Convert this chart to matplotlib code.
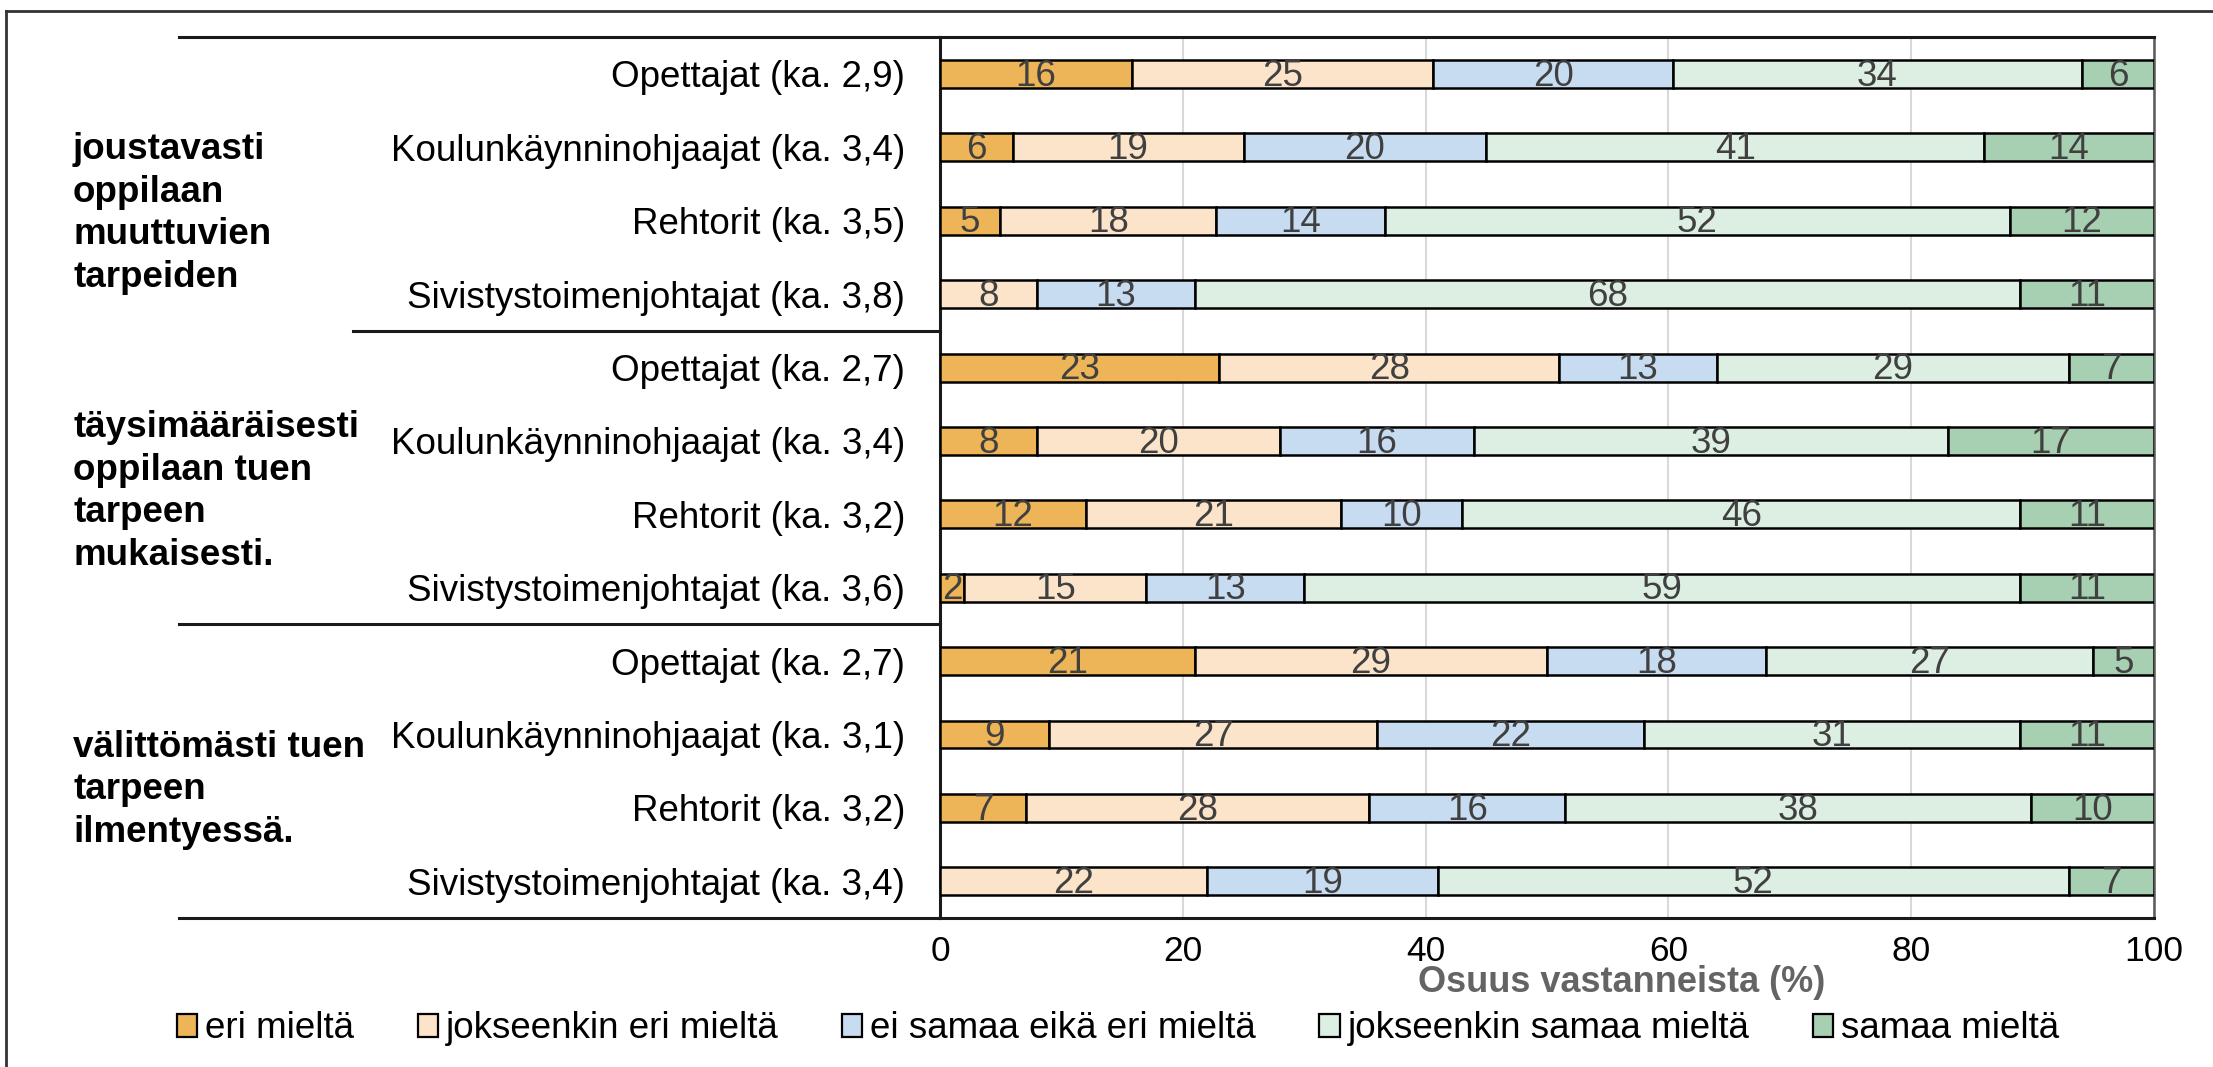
import matplotlib
matplotlib.use("Agg")
import matplotlib.pyplot as plt
from matplotlib.patches import Patch
from matplotlib.lines import Line2D
import numpy as np

plt.rcParams['font.family'] = ['Liberation Sans', 'DejaVu Sans']

# ---- data ----
row_labels = [
    "Opettajat (ka. 2,9)", "Koulunkäynninohjaajat (ka. 3,4)", "Rehtorit (ka. 3,5)", "Sivistystoimenjohtajat (ka. 3,8)",
    "Opettajat (ka. 2,7)", "Koulunkäynninohjaajat (ka. 3,4)", "Rehtorit (ka. 3,2)", "Sivistystoimenjohtajat (ka. 3,6)",
    "Opettajat (ka. 2,7)", "Koulunkäynninohjaajat (ka. 3,1)", "Rehtorit (ka. 3,2)", "Sivistystoimenjohtajat (ka. 3,4)",
]
group_labels = [
    "joustavasti\noppilaan\nmuuttuvien\ntarpeiden",
    "täysimääräisesti\noppilaan tuen\ntarpeen\nmukaisesti.",
    "välittömästi tuen\ntarpeen\nilmentyessä.",
]
series_names = ["eri mieltä", "jokseenkin eri mieltä", "ei samaa eikä eri mieltä",
                "jokseenkin samaa mieltä", "samaa mieltä"]
eri_mielta = [16, 6, 5, 0, 23, 8, 12, 2, 21, 9, 7, 0]
jokseenkin_eri = [25, 19, 18, 8, 28, 20, 21, 15, 29, 27, 28, 22]
ei_samaa_eika_eri = [20, 20, 14, 13, 13, 16, 10, 13, 18, 22, 16, 19]
jokseenkin_samaa = [34, 41, 52, 68, 29, 39, 46, 59, 27, 31, 38, 52]
samaa_mielta = [6, 14, 12, 11, 7, 17, 11, 11, 5, 11, 10, 7]
xticks = [0, 20, 40, 60, 80, 100]

colors = ["#EDB458", "#FCE4CA", "#C7DCF1", "#DDEEE3", "#A7CFB2"]

series = np.array([eri_mielta, jokseenkin_eri, ei_samaa_eika_eri, jokseenkin_samaa, samaa_mielta], dtype=float)
totals = series.sum(axis=0)
widths = series / totals * 100.0

W, H = 2213, 1067
fig = plt.figure(figsize=(W / 100, H / 100), dpi=100)
ax_left, ax_right = 940 / W, 2154 / W
ax_top, ax_bot = 37.3 / H, 918 / H
ax = fig.add_axes([ax_left, 1 - ax_bot, ax_right - ax_left, ax_bot - ax_top])

y = np.arange(len(row_labels))
left = np.zeros(len(row_labels))
for i in range(5):
    ax.barh(y, widths[i], left=left, height=0.38, color=colors[i],
            edgecolor="black", linewidth=1.8, zorder=3)
    for j in range(len(y)):
        v = series[i, j]
        if v > 0:
            ax.text(left[j] + widths[i, j] / 2, y[j] + 0.03, f"{int(v)}", ha="center", va="center",
                    fontsize=26.5, color="#404040", zorder=4)
    left += widths[i]

ax.set_xlim(0, 100)
ax.set_ylim(len(row_labels) - 0.5, -0.5)
ax.set_xticks(xticks)
ax.set_xticklabels([str(t) for t in xticks], fontsize=25.5)
ax.set_yticks(y)
ax.set_yticklabels(row_labels, fontsize=26.5)
ax.tick_params(axis="both", length=0)
ax.tick_params(axis="x", pad=12)
ax.tick_params(axis="y", pad=25)
ax.grid(axis="x", color="#D9D9D9", linewidth=1.5, zorder=0)
ax.set_axisbelow(True)

for s in ["left", "bottom", "top"]:
    ax.spines[s].set_color("#1a1a1a")
    ax.spines[s].set_linewidth(2.2)
ax.spines["right"].set_color("#595959")
ax.spines["right"].set_linewidth(1.8)

# group separators extending into label area
x_far = (179 - 940) / (2154 - 940) * 100
x_mid = (353 - 940) / (2154 - 940) * 100
ax.plot([x_far, 0], [-0.5, -0.5], color="#1a1a1a", lw=2.2, clip_on=False)
ax.plot([x_mid, 0], [3.5, 3.5], color="#1a1a1a", lw=2.2, clip_on=False)
ax.plot([x_far, 0], [7.5, 7.5], color="#1a1a1a", lw=2.2, clip_on=False)
ax.plot([x_far, 0], [11.5, 11.5], color="#1a1a1a", lw=2.2, clip_on=False)

# group labels
x_grp = (73 - 940) / (2154 - 940) * 100
for lab, yy in zip(group_labels, [1.9, 5.69, 9.75]):
    ax.text(x_grp, yy, lab, ha="left", va="center", fontsize=26.5, fontweight="bold",
            linespacing=1.28, clip_on=False)

# axis title
fig.text(1622 / W, 1 - 982 / H, "Osuus vastanneista (%)", ha="center", va="center",
         fontsize=26, fontweight="bold", color="#646464")

# legend
handles = [Patch(facecolor=c, edgecolor="black", linewidth=1.6) for c in colors]
fig.legend(handles, series_names, loc="center left", bbox_to_anchor=(177 / W, 1 - 1029 / H),
           ncol=5, frameon=False, fontsize=26.5, handlelength=0.55, handleheight=0.55,
           handletextpad=0.22, columnspacing=1.72, borderpad=0, borderaxespad=0)

# figure frame (left and top)
fig.add_artist(Line2D([6 / W, 6 / W], [0, 1 - 11 / H], color="#333333", lw=2, transform=fig.transFigure))
fig.add_artist(Line2D([6 / W, 1], [1 - 11 / H, 1 - 11 / H], color="#333333", lw=2, transform=fig.transFigure))

fig.savefig("out.png", dpi=100)
